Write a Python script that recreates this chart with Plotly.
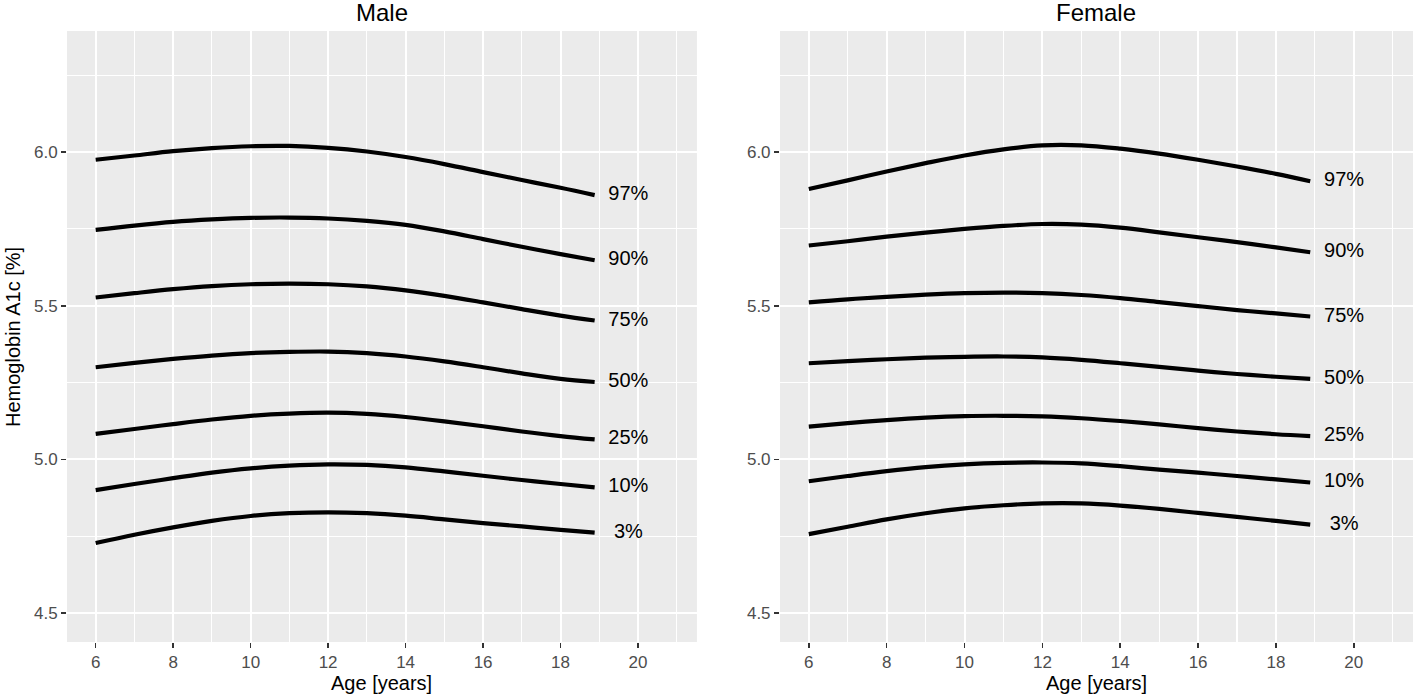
import plotly.graph_objects as go

AGES = [6, 7, 8, 9, 10, 11, 12, 13, 14, 15, 16, 17, 18, 18.88]
PCT_LABELS = ["97%", "90%", "75%", "50%", "25%", "10%", "3%"]
LABEL_AGE = 19.75

MALE_97 = [5.975, 5.989, 6.003, 6.013, 6.019, 6.020, 6.014, 6.002, 5.984, 5.961, 5.935, 5.909, 5.884, 5.860]
MALE_90 = [5.747, 5.761, 5.773, 5.781, 5.786, 5.787, 5.784, 5.776, 5.763, 5.742, 5.717, 5.692, 5.668, 5.648]
MALE_75 = [5.527, 5.541, 5.554, 5.564, 5.570, 5.572, 5.570, 5.563, 5.550, 5.532, 5.511, 5.489, 5.468, 5.452]
MALE_50 = [5.300, 5.314, 5.327, 5.338, 5.346, 5.350, 5.351, 5.346, 5.335, 5.319, 5.300, 5.280, 5.262, 5.252]
MALE_25 = [5.083, 5.099, 5.115, 5.130, 5.142, 5.149, 5.152, 5.148, 5.138, 5.124, 5.108, 5.091, 5.076, 5.065]
MALE_10 = [4.900, 4.920, 4.939, 4.957, 4.971, 4.980, 4.984, 4.982, 4.974, 4.961, 4.947, 4.933, 4.920, 4.909]
MALE_03 = [4.728, 4.755, 4.779, 4.800, 4.816, 4.825, 4.828, 4.825, 4.817, 4.805, 4.793, 4.782, 4.771, 4.762]

FEMALE_97 = [5.880, 5.908, 5.937, 5.964, 5.989, 6.009, 6.022, 6.022, 6.011, 5.995, 5.975, 5.953, 5.929, 5.905]
FEMALE_90 = [5.696, 5.710, 5.725, 5.738, 5.750, 5.760, 5.766, 5.764, 5.754, 5.739, 5.723, 5.707, 5.690, 5.674]
FEMALE_75 = [5.511, 5.521, 5.529, 5.536, 5.541, 5.543, 5.541, 5.535, 5.525, 5.512, 5.499, 5.486, 5.475, 5.465]
FEMALE_50 = [5.313, 5.320, 5.326, 5.331, 5.334, 5.335, 5.332, 5.324, 5.313, 5.301, 5.289, 5.278, 5.269, 5.262]
FEMALE_25 = [5.107, 5.118, 5.128, 5.136, 5.141, 5.142, 5.140, 5.134, 5.125, 5.114, 5.102, 5.091, 5.082, 5.076]
FEMALE_10 = [4.929, 4.946, 4.962, 4.975, 4.984, 4.989, 4.990, 4.987, 4.978, 4.967, 4.957, 4.946, 4.935, 4.925]
FEMALE_03 = [4.757, 4.781, 4.805, 4.825, 4.841, 4.851, 4.857, 4.857, 4.850, 4.839, 4.826, 4.813, 4.800, 4.788]

MALE = [MALE_97, MALE_90, MALE_75, MALE_50, MALE_25, MALE_10, MALE_03]
FEMALE = [FEMALE_97, FEMALE_90, FEMALE_75, FEMALE_50, FEMALE_25, FEMALE_10, FEMALE_03]

FONT = "Liberation Sans, Arial, sans-serif"

fig = go.Figure()
for series, xa, ya in [(MALE, "x", "y"), (FEMALE, "x2", "y2")]:
    for vals in series:
        fig.add_trace(go.Scatter(x=AGES, y=vals, mode="lines", xaxis=xa, yaxis=ya,
                                 line=dict(color="black", width=4.2, shape="spline", smoothing=1.0),
                                 showlegend=False, hoverinfo="skip"))
    fig.add_trace(go.Scatter(x=[LABEL_AGE] * len(series), y=[v[-1] for v in series],
                             text=PCT_LABELS, mode="text", xaxis=xa, yaxis=ya,
                             textposition="middle center",
                             textfont=dict(family=FONT, size=20, color="black"),
                             showlegend=False, hoverinfo="skip"))

xcommon = dict(range=[5.26, 21.52], tickvals=[6, 8, 10, 12, 14, 16, 18, 20],
               showgrid=True, gridcolor="white", gridwidth=2, zeroline=False,
               ticks="outside", ticklen=5, tickwidth=1.6, tickcolor="#333333",
               tickfont=dict(family=FONT, size=17, color="#4D4D4D"),
               minor=dict(tickvals=[5, 7, 9, 11, 13, 15, 17, 19, 21], showgrid=True,
                          gridcolor="white", gridwidth=1.1, ticks=""),
               showline=False)
ycommon = dict(range=[4.406, 6.394], tickvals=[4.5, 5.0, 5.5, 6.0], ticktext=["4.5", "5.0", "5.5", "6.0"],
               showgrid=True, gridcolor="white", gridwidth=2, zeroline=False,
               ticks="outside", ticklen=5, tickwidth=1.6, tickcolor="#333333",
               tickfont=dict(family=FONT, size=17, color="#4D4D4D"),
               minor=dict(tickvals=[4.75, 5.25, 5.75, 6.25], showgrid=True,
                          gridcolor="white", gridwidth=1.1, ticks=""),
               showline=False)

D1 = [0, 0.468]
D2 = [0.5297, 1]
fig.update_layout(
    width=1415, height=695,
    margin=dict(l=67, r=2, t=31, b=53),
    paper_bgcolor="white",
    plot_bgcolor="#EBEBEB",
    font=dict(family=FONT, color="black"),
    xaxis=dict(domain=D1, anchor="y", **xcommon),
    yaxis=dict(domain=[0, 1], anchor="x", **ycommon),
    xaxis2=dict(domain=D2, anchor="y2", **xcommon),
    yaxis2=dict(domain=[0, 1], anchor="x2", **ycommon),
    annotations=[
        dict(text="Male", x=sum(D1) / 2, y=1, xref="paper", yref="paper", xanchor="center",
             yanchor="bottom", yshift=3, showarrow=False, font=dict(family=FONT, size=24, color="black")),
        dict(text="Female", x=sum(D2) / 2, y=1, xref="paper", yref="paper", xanchor="center",
             yanchor="bottom", yshift=3, showarrow=False, font=dict(family=FONT, size=24, color="black")),
        dict(text="Age [years]", x=sum(D1) / 2, y=-0.067, xref="paper", yref="paper", xanchor="center",
             yanchor="middle", showarrow=False, font=dict(family=FONT, size=20, color="black")),
        dict(text="Age [years]", x=sum(D2) / 2, y=-0.067, xref="paper", yref="paper", xanchor="center",
             yanchor="middle", showarrow=False, font=dict(family=FONT, size=20, color="black")),
        dict(text="Hemoglobin A1c [%]", x=-0.0405, y=0.5, xref="paper", yref="paper", xanchor="center",
             yanchor="middle", textangle=-90, showarrow=False, font=dict(family=FONT, size=20, color="black")),
    ],
)

fig.write_html("out.html", config={"displayModeBar": False, "staticPlot": True},
               post_script="document.body.style.margin='0px';document.body.style.overflow='hidden';")
